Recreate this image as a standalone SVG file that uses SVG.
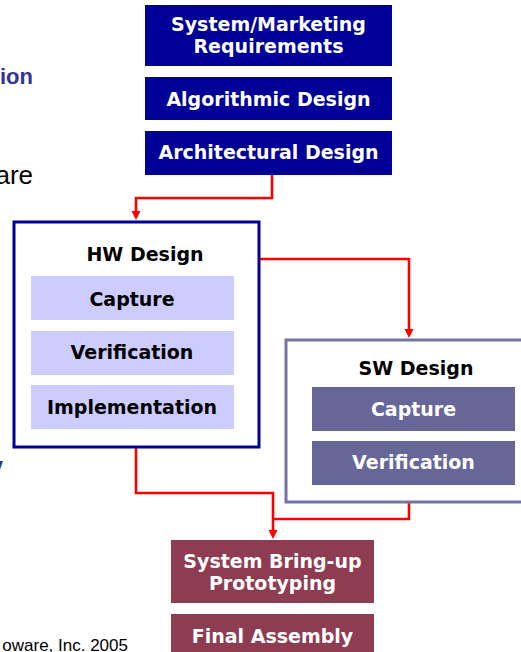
<svg xmlns="http://www.w3.org/2000/svg" width="521" height="652" viewBox="0 0 521 652">
  <defs>
    <marker id="arrow" markerUnits="userSpaceOnUse" markerWidth="10" markerHeight="10" viewBox="0 0 10 10" refX="5" refY="10" orient="auto-start-reverse">
      <path d="M0,0 L10,0 L5,10 Z" fill="#ff0000" transform="rotate(-90 5 5)"/>
    </marker>
    <style>
      .lbl { font-family: "DejaVu Sans", Verdana, sans-serif; font-weight: bold; font-size: 19px; text-anchor: middle; }
      .w { fill: #ffffff; }
      .k { fill: #000000; }
      .top { fill: #000099; }
      .hwsub { fill: #ccccff; }
      .swsub { fill: #666699; }
      .bot { fill: #8e3c52; }
      .wire { fill: none; stroke: #ff0000; stroke-width: 2.6; }
    </style>
  </defs>
  <rect width="521" height="652" fill="#ffffff"/>

  <!-- clipped slide text at the left edge -->
  <g font-family="'Liberation Sans', Arial, sans-serif">
    <text x="33" y="84" font-size="22" font-weight="bold" fill="#333399" text-anchor="end">ion</text>
    <text x="33" y="184" font-size="26" fill="#000000" text-anchor="end">are</text>
    <text x="3" y="473" font-size="22" font-weight="bold" fill="#333399" text-anchor="end">v</text>
    <text x="128" y="651" font-size="17" fill="#000000" text-anchor="end">oware, Inc. 2005</text>
  </g>

  <!-- connectors -->
  <g id="connectors">
    <path class="wire" d="M272,175 V198 H136 V212"/>
    <path d="M131.5,211 H140.5 L136,220 Z" fill="#ff0000"/>
    <path class="wire" d="M260,259 H409 V330"/>
    <path d="M404.5,329 H413.5 L409,338 Z" fill="#ff0000"/>
    <path class="wire" d="M136,448 V493 H273 V531"/>
    <path d="M268.5,530 H277.5 L273,539 Z" fill="#ff0000"/>
    <path class="wire" d="M409,503 V519 H273"/>
  </g>

  <g id="system-marketing">
    <rect class="top" x="145" y="5" width="247" height="61"/>
    <text class="lbl w" x="268.5" y="31">System/Marketing</text>
    <text class="lbl w" x="268.5" y="53">Requirements</text>
  </g>
  <g id="algorithmic">
    <rect class="top" x="145" y="77" width="247" height="43"/>
    <text class="lbl w" x="268.5" y="106">Algorithmic Design</text>
  </g>
  <g id="architectural">
    <rect class="top" x="145" y="131" width="247" height="44"/>
    <text class="lbl w" x="268.5" y="159">Architectural Design</text>
  </g>

  <g id="hw-design">
    <rect x="14" y="222" width="245" height="225" fill="#ffffff" stroke="#000099" stroke-width="3"/>
    <text class="lbl k" x="145" y="261">HW Design</text>
    <rect class="hwsub" x="31" y="276" width="203" height="44"/>
    <text class="lbl k" x="132" y="306">Capture</text>
    <rect class="hwsub" x="31" y="331" width="203" height="44"/>
    <text class="lbl k" x="132" y="359">Verification</text>
    <rect class="hwsub" x="31" y="385" width="203" height="44"/>
    <text class="lbl k" x="132" y="414">Implementation</text>
  </g>

  <g id="sw-design">
    <rect x="286" y="340" width="240" height="162" fill="#ffffff" stroke="#7474a4" stroke-width="3"/>
    <text class="lbl k" x="416" y="375">SW Design</text>
    <rect class="swsub" x="312" y="387" width="203" height="44"/>
    <text class="lbl w" x="413.5" y="416">Capture</text>
    <rect class="swsub" x="312" y="441" width="203" height="44"/>
    <text class="lbl w" x="413.5" y="469">Verification</text>
  </g>

  <g id="bring-up">
    <rect class="bot" x="171" y="540" width="203" height="63"/>
    <text class="lbl w" x="272.5" y="568">System Bring-up</text>
    <text class="lbl w" x="272.5" y="590">Prototyping</text>
  </g>
  <g id="final-assembly">
    <rect class="bot" x="171" y="614" width="203" height="44"/>
    <text class="lbl w" x="272.5" y="643">Final Assembly</text>
  </g>
</svg>
